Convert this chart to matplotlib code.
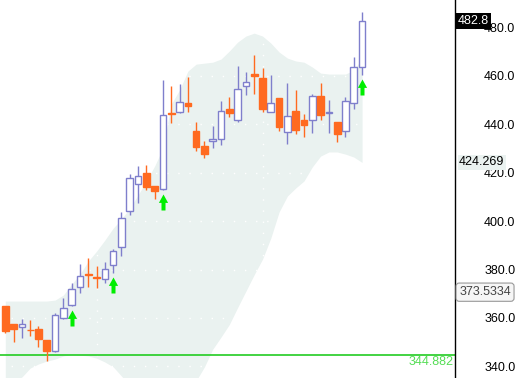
import matplotlib
matplotlib.use('Agg')
import matplotlib.pyplot as plt
from matplotlib.path import Path
import numpy as np

plt.rcParams['font.family'] = ['Liberation Sans', 'DejaVu Sans']

# candles
opens = [364.9, 357.5, 356.1, 355.2, 355.4, 351.0, 346.2, 360.2, 365.2, 372.6,
         378.3, 377.0, 376.0, 381.7, 389.2, 404.3, 415.2, 419.9, 414.5, 413.1,
         444.7, 445.0, 448.9, 437.2, 431.0, 433.0, 433.8, 446.2, 441.9, 455.7,
         460.7, 459.1, 445.2, 450.9, 436.7, 445.5, 441.8, 441.7, 451.7, 444.9,
         440.9, 437.1, 448.7, 463.6]
highs = [365.0, 357.6, 359.5, 359.2, 356.7, 351.1, 362.0, 368.1, 374.4, 382.3,
         384.8, 381.5, 383.0, 388.5, 403.8, 419.5, 422.9, 423.2, 414.6, 458.3,
         455.8, 456.7, 459.7, 440.9, 433.1, 439.3, 449.6, 451.3, 464.1, 461.5,
         468.6, 463.4, 460.4, 451.0, 457.1, 454.2, 444.1, 452.5, 457.1, 449.9,
         441.0, 451.2, 467.7, 486.4]
lows = [353.9, 350.2, 351.8, 352.5, 348.1, 342.3, 346.0, 359.7, 365.0, 370.2,
        372.9, 372.5, 374.5, 378.7, 385.7, 402.6, 407.4, 413.0, 409.1, 413.0,
        440.7, 444.8, 445.2, 429.1, 426.2, 430.1, 431.3, 442.9, 441.1, 452.2,
        452.6, 445.2, 445.0, 437.3, 431.7, 436.1, 434.9, 436.5, 441.9, 436.5,
        432.7, 434.9, 446.2, 460.5]
closes = [354.7, 355.5, 357.4, 354.9, 351.4, 346.4, 361.1, 364.0, 371.8, 377.2,
          377.9, 376.6, 380.2, 387.5, 401.2, 417.7, 418.5, 414.2, 412.6, 443.7,
          444.3, 449.1, 447.7, 430.7, 427.9, 433.9, 445.4, 444.8, 454.5, 457.6,
          459.8, 446.4, 448.7, 439.1, 443.3, 437.8, 439.8, 451.6, 443.8, 445.3,
          436.1, 449.5, 463.6, 482.8]

# envelope band
band_upper = [367.0, 367.0, 367.0, 367.0, 367.0, 367.0, 367.4, 369.5, 374.0, 378.1,
              383.5, 387.6, 392.2, 397.1, 400.9, 405.4, 410.8, 416.6, 422.8, 430.2,
              448.4, 454.2, 462.0, 464.9, 465.3, 465.7, 467.0, 470.3, 474.0, 476.5,
              477.7, 476.5, 473.6, 469.9, 467.4, 466.2, 465.7, 463.7, 461.2, 460.8,
              460.8, 460.8, 462.4, 467.4]
band_lower = [333.0, 334.0, 335.6, 339.3, 341.0, 342.2, 343.0, 344.3, 345.0, 344.7,
              344.3, 343.4, 341.8, 339.8, 336.0, 332.0, 329.0, 327.0, 326.0, 326.0,
              327.0, 329.0, 332.0, 334.0, 339.8, 347.1, 352.1, 357.3, 364.3, 371.1,
              377.9, 384.3, 393.0, 403.8, 410.4, 413.7, 416.6, 422.4, 426.9, 428.6,
              428.6, 427.7, 426.5, 424.269]

signal_idx = [8, 13, 19, 43]
support = 344.882
marker_value = 373.5334
yticks = [340, 360, 380, 400, 420, 440, 460, 480]

purple = '#7f7fcc'
orange = '#ff6a20'
band_col = '#eaf2f0'

x = np.arange(len(opens))
o = np.array(opens); c = np.array(closes)
h = np.array(highs); l = np.array(lows)
up = c >= o

fig = plt.figure(figsize=(5.19, 3.78), dpi=100)
ax = fig.add_axes([0, 0, 455 / 519, 1])

ax.fill_between(x, band_lower, band_upper, color=band_col, lw=0, zorder=0)

ax.set_xticks([11, 31, 51])
ax.grid(True, color='white', linestyle=(0, (1, 7)), lw=1)
ax.set_axisbelow(True)

ax.axhline(support, color='#22cc22', lw=1.2, zorder=1)

wick_cols = [purple if u else orange for u in up]
ax.vlines(x, l, h, colors=wick_cols, lw=1.0, zorder=2)
bottoms = np.minimum(o, c)
heights = np.abs(c - o)
ax.bar(x[up], heights[up], bottom=bottoms[up], width=0.8,
       facecolor='white', edgecolor=purple, lw=1.0, zorder=3)
ax.bar(x[~up], heights[~up], bottom=bottoms[~up], width=0.8,
       facecolor=orange, edgecolor=orange, lw=1.0, zorder=3)

# green up arrows under signal candles
arrow = Path([(0, -0.2), (0.23, -0.62), (0.1, -0.62), (0.1, -1.0),
              (-0.1, -1.0), (-0.1, -0.62), (-0.23, -0.62), (0, -0.2)],
             [Path.MOVETO] + [Path.LINETO] * 6 + [Path.CLOSEPOLY])
ax.plot(x[signal_idx], l[signal_idx], ls='none', marker=arrow, ms=28.8,
        color='#00ee00', mew=0, zorder=4)

ax.set_xlim(-0.64, 54.2)
ax.set_ylim(335.2, 491.4)

ax.yaxis.tick_right()
ax.set_yticks(yticks)
ax.set_yticklabels(['%.1f' % v for v in yticks])
ax.tick_params(axis='y', length=0, pad=21, labelsize=9)
ax.tick_params(axis='x', length=0, labelbottom=False)
for s in ['top', 'left', 'bottom']:
    ax.spines[s].set_visible(False)
ax.spines['right'].set_color('black')
ax.spines['right'].set_linewidth(1.0)

# price labels on the right
ax.annotate('%.1f' % closes[-1], xy=(1, closes[-1]), xycoords=('axes fraction', 'data'),
            xytext=(2, 0), textcoords='offset points', ha='left', va='center',
            color='white', fontsize=9, annotation_clip=False,
            bbox=dict(boxstyle='square,pad=0.15', fc='black', ec='none'))
ax.annotate('%.3f' % band_lower[-1], xy=(1, band_lower[-1]), xycoords=('axes fraction', 'data'),
            xytext=(3, 0), textcoords='offset points', ha='left', va='center',
            color='black', fontsize=9, annotation_clip=False,
            bbox=dict(boxstyle='square,pad=0.1', fc=band_col, ec='none'))
ax.annotate('%.4f' % marker_value, xy=(1, marker_value), xycoords=('axes fraction', 'data'),
            xytext=(3, -5), textcoords='offset points', ha='left', va='center',
            color='#444444', fontsize=9, annotation_clip=False,
            bbox=dict(boxstyle='round,pad=0.25', fc='#f6f6f6', ec='#999999', lw=0.8))
ax.annotate('%.3f' % support, xy=(1, support), xycoords=('axes fraction', 'data'),
            xytext=(-1, -5.5), textcoords='offset points', ha='right', va='center',
            color='#55dd55', fontsize=9)

fig.savefig('out.png', dpi=100)
